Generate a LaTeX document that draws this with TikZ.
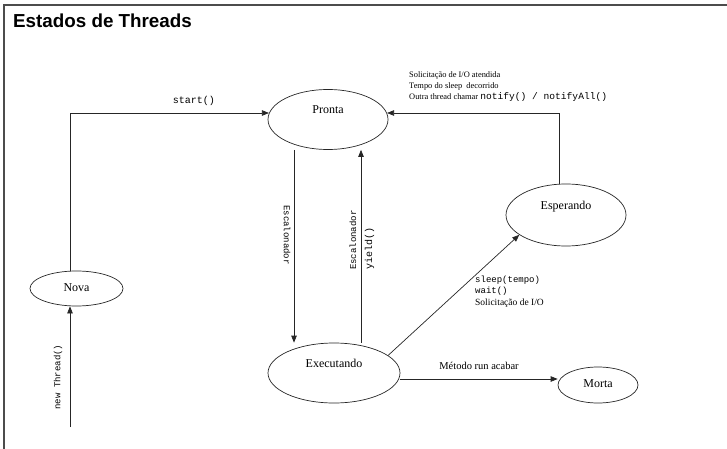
\documentclass[tikz,border=0pt]{standalone}
\usepackage{fontspec}
\setmainfont{Liberation Serif}
\setsansfont{Liberation Sans}
\setmonofont{Liberation Mono}
\usetikzlibrary{arrows.meta,shapes.geometric}
\begin{document}
\begin{tikzpicture}[x=1pt,y=-1pt,
  state/.style={ellipse,draw=black!85,line width=0.7pt,inner sep=0pt},
  stext/.style={font=\fontsize{12}{14}\selectfont,inner sep=0pt},
  arr/.style={draw=black!85,line width=0.7pt,-{Triangle[length=7pt,width=5.5pt]}},
  mono/.style={font=\ttfamily\fontsize{10}{12}\selectfont,inner sep=0pt},
  smallmono/.style={font=\ttfamily\fontsize{9}{11}\selectfont,inner sep=0pt},
  small/.style={font=\fontsize{9.5}{11}\selectfont,inner sep=0pt}]
\useasboundingbox (0,0) rectangle (727,449);
\draw[draw=black!70,line width=1.4pt] (727,5) -- (4,5) -- (4,449);
\node[anchor=base west,inner sep=0pt,font=\sffamily\bfseries\fontsize{18.8}{22}\selectfont] (title) at (13,28) {Estados de Threads};

% states
\node[state,minimum width=120pt,minimum height=60pt] (pronta) at (328,119.5) {};
\node[state,minimum width=120pt,minimum height=62pt] (esperando) at (566,215) {};
\node[state,minimum width=93pt,minimum height=35pt] (nova) at (76.5,288.5) {};
\node[state,minimum width=132pt,minimum height=60pt] (executando) at (334,373) {};
\node[state,minimum width=80pt,minimum height=36pt] (morta) at (598,385) {};

\node[stext] (prontaT) at (328,110) {Pronta};
\node[stext] (esperandoT) at (566,207) {Esperando};
\node[stext] (novaT) at (76.5,288) {Nova};
\node[stext] (executandoT) at (334,363) {Executando};
\node[stext] (mortaT) at (598,384) {Morta};

% helper coordinates
\coordinate (nt) at (70,427);
\coordinate (topY) at (0,113);
\coordinate (espX) at (559,0);
\coordinate (downX) at (294,0);
\coordinate (upX) at (361,0);
\coordinate (runY) at (0,379);

% connectors
\draw[arr] (nt) -- (nt |- nova.south);
\draw[arr] (nt |- nova.north) -- (nt |- topY) -- (topY -| pronta.174);
\draw[arr] (espX |- esperando.north) -- (espX |- topY) -- (topY -| pronta.6);
\draw[arr] (downX |- pronta.south) -- (downX |- executando.north);
\draw[arr] (upX |- executando.north) -- (upX |- pronta.south);
\draw[arr] (executando.18) -- (esperando.203);
\draw[arr] (runY -| executando.east) -- (runY -| morta.west);

% labels
\node[mono] (lstart) at (194,101) {start()};
\node[smallmono,rotate=90] (lnew) at (58,377) {new Thread()};
\node[smallmono,rotate=-90] (lesc1) at (287,235) {Escalonador};
\node[smallmono,rotate=90,anchor=west] (lesc2) at (353,270) {Escalonador};
\node[mono,rotate=90,anchor=west] (lyield) at (369.5,270) {yield()};

\node[smallmono,anchor=west] (lsleep) at (475,280) {sleep(tempo)};
\node[smallmono,anchor=west] (lwait) at (475,291.5) {wait()};
\node[small,anchor=west] (lio) at (475,303.5) {Solicitação de I/O};

\node[inner sep=0pt,font=\fontsize{10.5}{12}\selectfont] (lrun) at (479,366) {Método run acabar};

\node[inner sep=0pt,anchor=west,align=left,font=\fontsize{8.4}{11.3}\selectfont] (ltop) at (409,86.5)
  {Solicitação de I/O atendida\\
   Tempo do sleep\ \ decorrido\\
   Outra thread chamar {\ttfamily\fontsize{9.6}{11.3}\selectfont notify() / notifyAll()}};
\end{tikzpicture}
\end{document}
